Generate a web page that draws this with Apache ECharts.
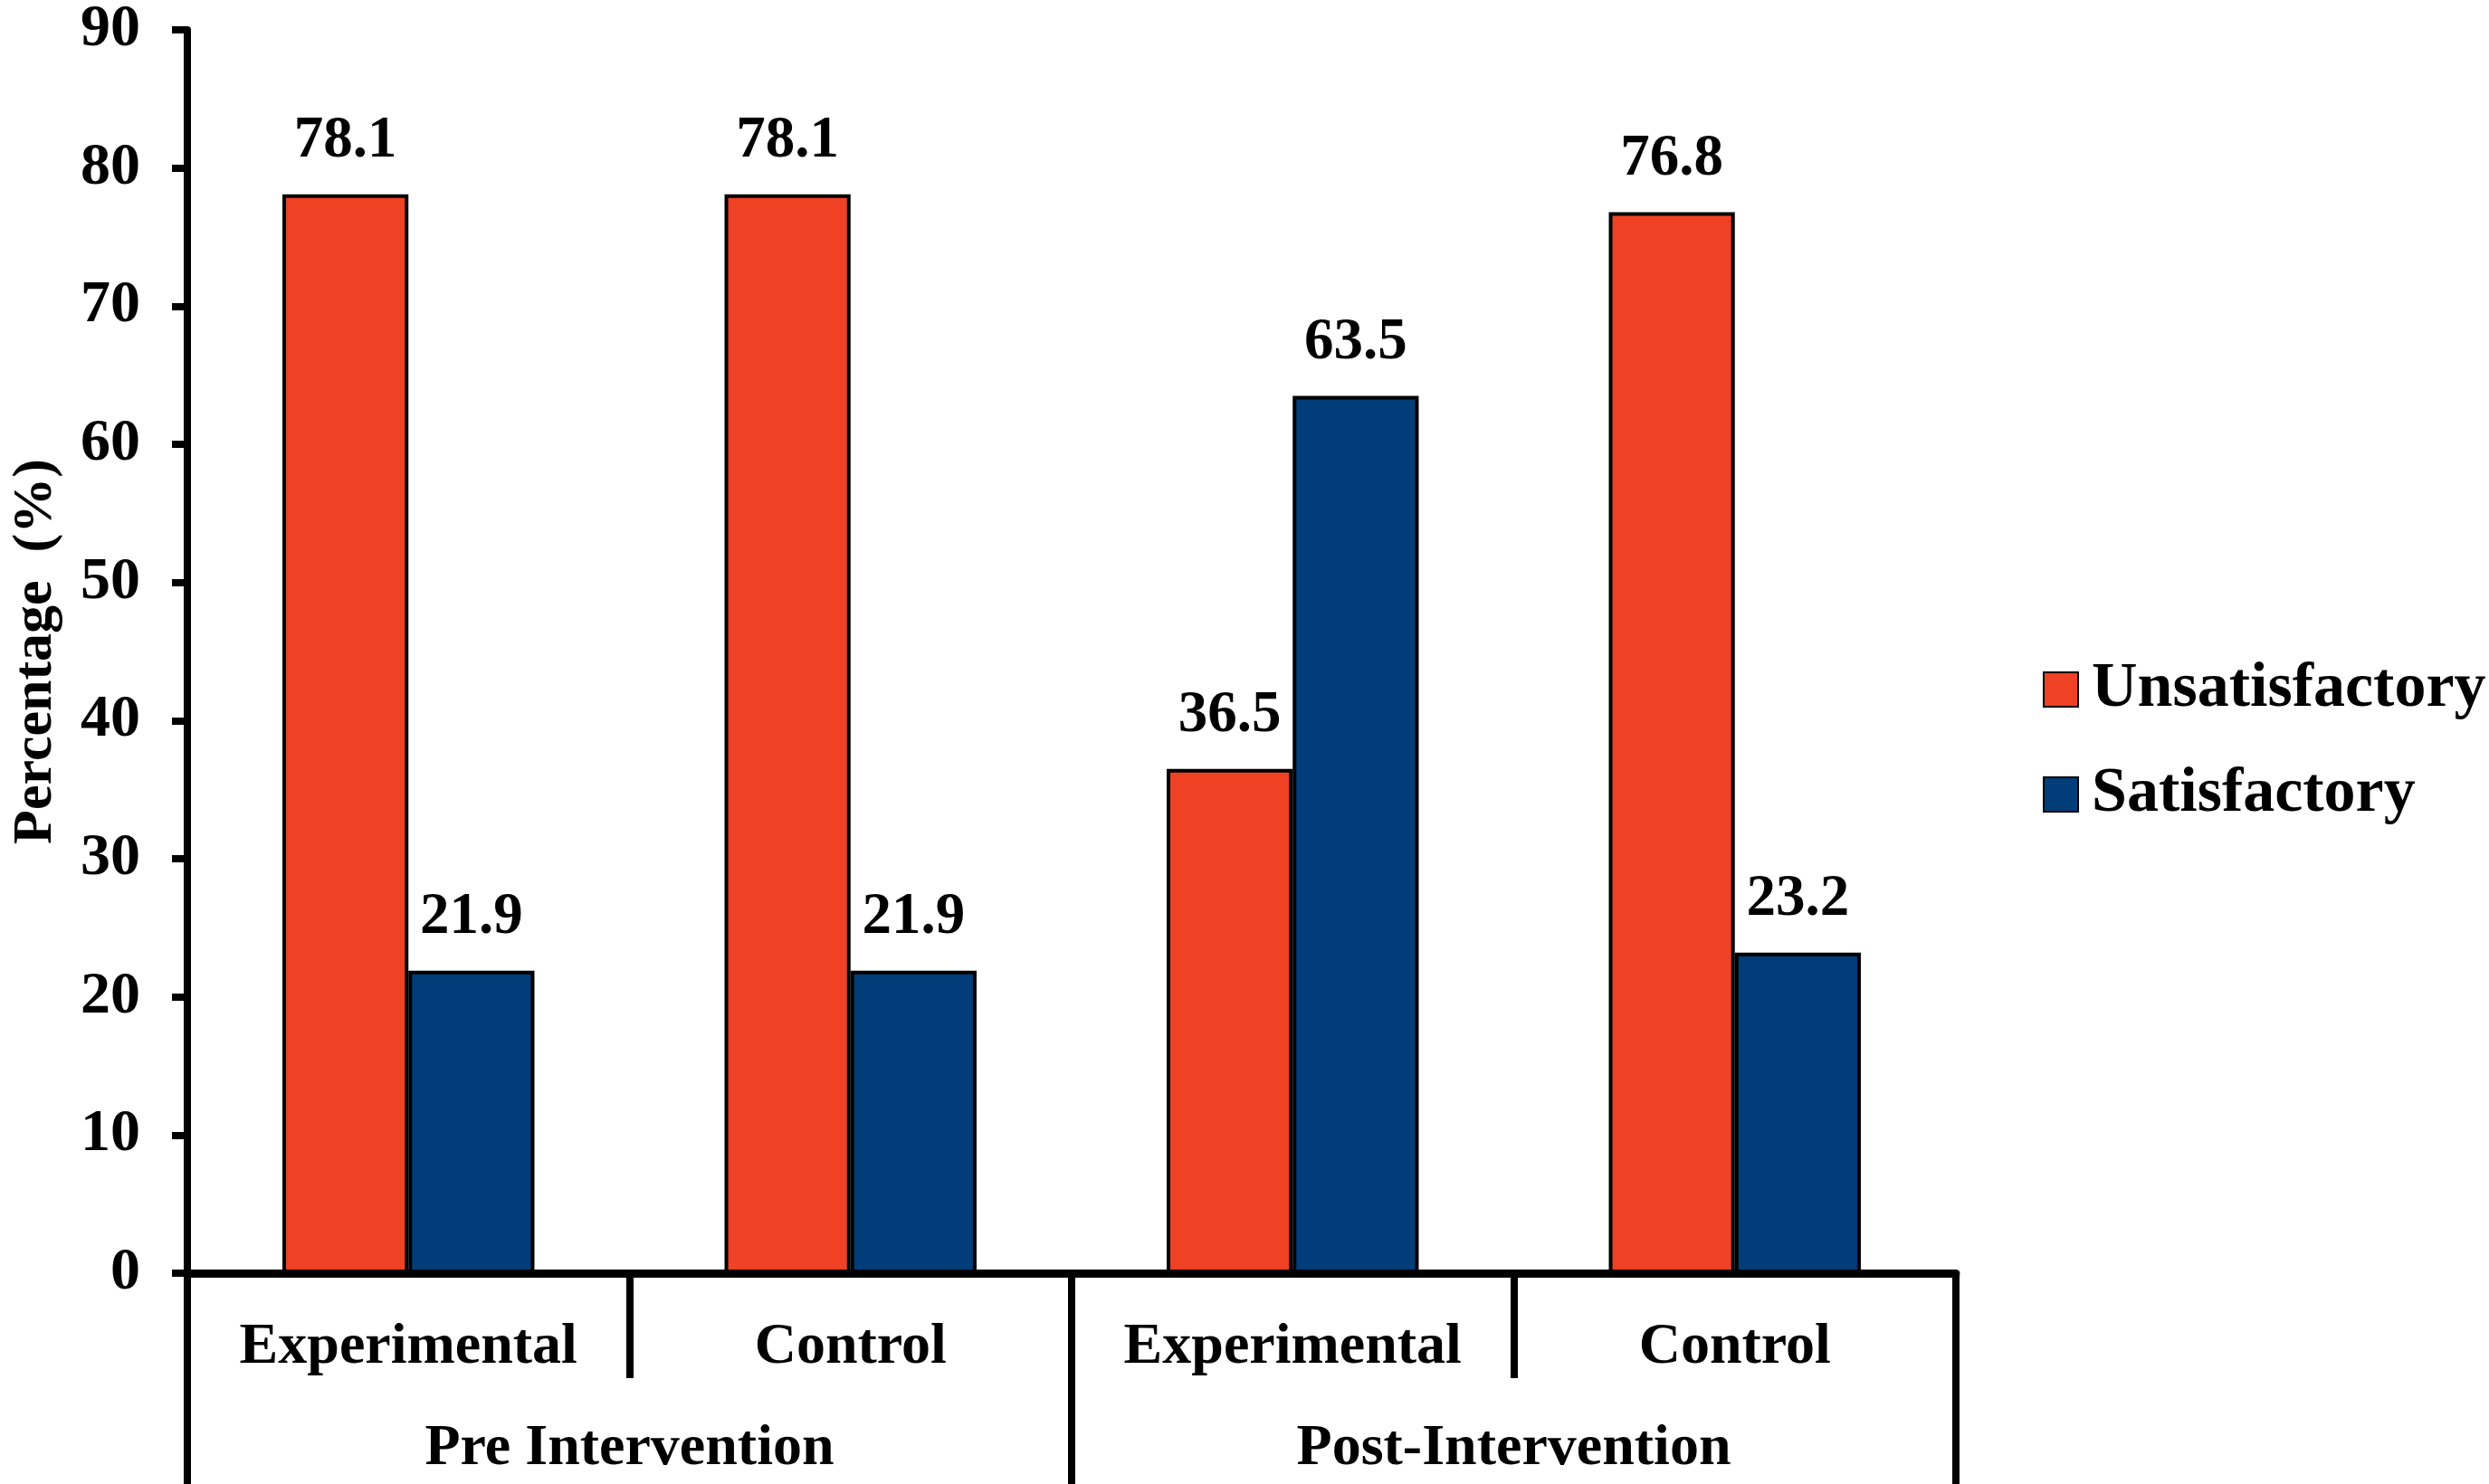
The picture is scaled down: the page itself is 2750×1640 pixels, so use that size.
<!DOCTYPE html>
<html>
<head>
<meta charset="utf-8">
<script src="https://cdn.jsdelivr.net/npm/echarts@6/dist/echarts.min.js"></script>
<style>html,body{margin:0;padding:0;background:#fff}#c{width:2750px;height:1640px}</style>
</head>
<body>
<div id="c"></div>
<script>
const groups = ["Experimental", "Control", "Experimental", "Control"];
const phases = ["Pre Intervention", "Post-Intervention"];
const unsatisfactory = [78.1, 78.1, 36.5, 76.8];
const satisfactory = [21.9, 21.9, 63.5, 23.2];
const yTicks = [0, 10, 20, 30, 40, 50, 60, 70, 80, 90];

const FONT = "'Liberation Serif', 'Times New Roman', serif";
const chart = echarts.init(document.getElementById('c'));
const lbl = {show: true, position: 'top', distance: 26, color: '#000', fontFamily: FONT, fontWeight: 'bold', fontSize: 65,
  formatter: p => p.value.toFixed(1)};
chart.setOption({
  animation: false,
  backgroundColor: '#fff',
  grid: {left: 207, right: 589, top: 32, bottom: 233, containLabel: false},
  legend: {
    orient: 'vertical', left: 2252, top: 722, itemWidth: 38, itemHeight: 38, itemGap: 46,
    icon: 'rect',
    textStyle: {fontFamily: FONT, fontWeight: 'bold', fontSize: 70, color: '#000', padding: [0, 0, 0, 10]},
    data: ['Unsatisfactory', 'Satisfactory']
  },
  xAxis: [{
    type: 'category', data: groups, position: 'bottom',
    axisLine: {show: true, lineStyle: {color: '#000', width: 9}},
    axisTick: {show: true, interval: 0, length: 116, lineStyle: {color: '#000', width: 8}},
    axisLabel: {interval: 0, margin: 50, color: '#000', fontFamily: FONT, fontWeight: 'bold', fontSize: 64},
    splitLine: {show: false}
  }, {
    type: 'category', data: phases, position: 'bottom',
    axisLine: {show: false},
    axisTick: {show: true, interval: 0, length: 240, lineStyle: {color: '#000', width: 8}},
    axisLabel: {interval: 0, margin: 162, color: '#000', fontFamily: FONT, fontWeight: 'bold', fontSize: 64},
    splitLine: {show: false}
  }],
  yAxis: {
    type: 'value', min: 0, max: 90, interval: 10,
    name: 'Percentage  (%)', nameLocation: 'middle', nameGap: 136,
    nameTextStyle: {fontFamily: FONT, fontWeight: 'bold', fontSize: 62, color: '#000'},
    axisLine: {show: true, lineStyle: {color: '#000', width: 8}},
    axisTick: {show: true, length: 17, lineStyle: {color: '#000', width: 8}},
    axisLabel: {margin: 52, color: '#000', fontFamily: FONT, fontWeight: 'bold', fontSize: 66,
      formatter: v => yTicks.includes(v) ? String(v) : ''},
    splitLine: {show: false}
  },
  series: [{
    name: 'Unsatisfactory', type: 'bar', xAxisIndex: 0, data: unsatisfactory,
    barGap: '0%', barCategoryGap: '43%',
    itemStyle: {color: '#EF4123', borderColor: '#000', borderWidth: 4},
    label: lbl
  }, {
    name: 'Satisfactory', type: 'bar', xAxisIndex: 0, data: satisfactory,
    barGap: '0%', barCategoryGap: '43%',
    itemStyle: {color: '#003D79', borderColor: '#000', borderWidth: 4},
    label: lbl
  }]
});
</script>
</body>
</html>
